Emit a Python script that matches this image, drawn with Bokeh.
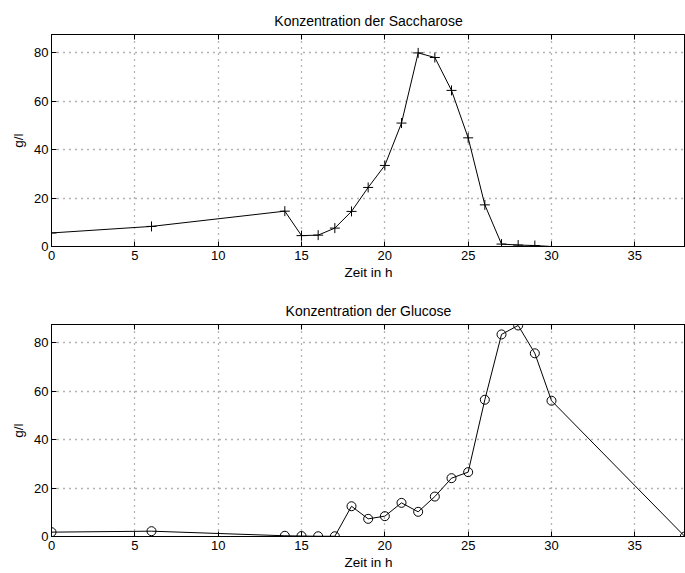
from bokeh.plotting import figure
from bokeh.layouts import column
from bokeh.models import LinearAxis, FixedTicker, Range1d, Title
from bokeh.embed import file_html
from bokeh.resources import INLINE

# Saccharose
t_sac = [0, 6, 14, 15, 16, 17, 18, 19, 20, 21, 22, 23, 24, 25, 26, 27, 28, 29, 30]
c_sac = [5.6, 8.3, 14.6, 4.5, 4.7, 7.6, 14.5, 24.4, 33.5, 51.0, 80.0, 78.1, 64.5,
         44.9, 17.2, 1.0, 0.6, 0.4, 0.0]
# Glucose
t_glu = [0, 6, 14, 15, 16, 17, 18, 19, 20, 21, 22, 23, 24, 25, 26, 27, 28, 29, 30, 38]
c_glu = [1.8, 2.2, 0.3, 0.2, 0.1, 0.1, 12.5, 7.3, 8.4, 13.9, 10.2, 16.5, 24.1,
         26.6, 56.5, 83.5, 87.2, 75.7, 56.1, 0.0]

x_ticks = [0, 5, 10, 15, 20, 25, 30, 35]
y_ticks = [0, 20, 40, 60, 80]
titles = ["Konzentration der Saccharose", "Konzentration der Glucose"]
x_label = "Zeit in h"
y_label = "g/l"

FONT = "Liberation Sans"


def make(title, xs, ys, marker, height, top, bottom):
    p = figure(width=685, height=height, output_backend="svg", toolbar_location=None,
               x_range=Range1d(0, 38.04), y_range=Range1d(0, 87.6),
               min_border_left=51, min_border_right=0, min_border_top=top,
               min_border_bottom=bottom, background_fill_color="white",
               border_fill_color="white")
    p.title = Title(text=title, align="center", text_font=FONT, text_font_size="14px",
                    text_font_style="normal", text_color="black", standoff=12)
    p.outline_line_color = "black"
    p.outline_line_width = 1
    for ax in (p.xaxis[0], p.yaxis[0]):
        ax.major_tick_in = 5
        ax.major_tick_out = 0
        ax.minor_tick_in = 0
        ax.minor_tick_out = 0
        ax.axis_line_color = "black"
        ax.major_tick_line_color = "black"
        ax.major_label_text_font = FONT
        ax.major_label_text_font_size = "13px"
        ax.major_label_text_color = "black"
        ax.axis_label_text_font = FONT
        ax.axis_label_text_font_size = "13.5px"
        ax.axis_label_text_font_style = "normal"
        ax.axis_label_text_color = "black"
    p.xaxis[0].ticker = FixedTicker(ticks=x_ticks)
    p.yaxis[0].ticker = FixedTicker(ticks=y_ticks)
    p.xaxis[0].axis_label = x_label
    p.yaxis[0].axis_label = y_label
    p.xaxis[0].major_label_standoff = 4
    p.xaxis[0].axis_label_standoff = 2
    p.yaxis[0].major_label_standoff = 3
    p.yaxis[0].axis_label_standoff = 5

    top_ax = LinearAxis(ticker=FixedTicker(ticks=x_ticks), major_tick_in=5, major_tick_out=0,
                        minor_tick_in=0, minor_tick_out=0,
                        major_label_overrides={t: "" for t in x_ticks},
                        major_label_standoff=0, axis_line_color="black")
    p.add_layout(top_ax, "above")

    for g in (p.xgrid[0], p.ygrid[0]):
        g.grid_line_color = "#444444"
        g.grid_line_dash = "1 5"
        g.grid_line_width = 1.3
        g.grid_line_alpha = 0.8
    p.xgrid[0].ticker = FixedTicker(ticks=x_ticks)
    p.ygrid[0].ticker = FixedTicker(ticks=y_ticks)

    p.line(xs, ys, line_color="black", line_width=1)
    if marker == "cross":
        p.scatter(xs, ys, marker="cross", size=10, line_color="black", line_width=1)
    else:
        p.scatter(xs, ys, marker="circle", size=9, line_color="black", line_width=1,
                  fill_color=None)
    return p


p1 = make(titles[0], t_sac, c_sac, "cross", 290, 34, 44)
p2 = make(titles[1], t_glu, c_glu, "circle", 283, 34, 37)

layout = column(p1, p2, spacing=0)
open("out.html", "w").write(file_html(layout, INLINE))
